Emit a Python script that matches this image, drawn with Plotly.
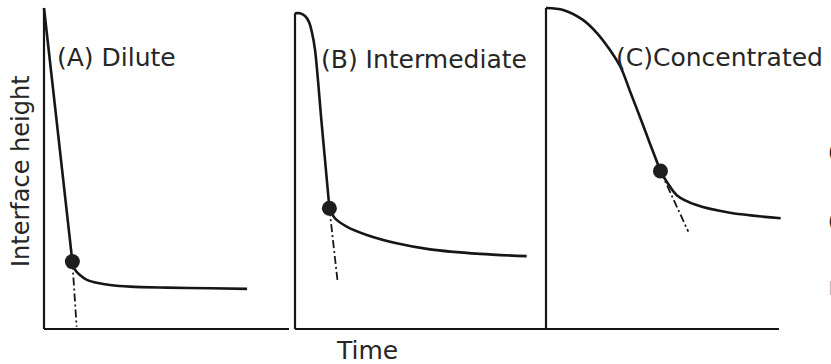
import plotly.graph_objects as go

# ---------------------------------------------------------------------------
# Batch-settling curves: interface height versus time for three suspensions.
# Time and height are in arbitrary units (height 100 = initial fill level).
# ---------------------------------------------------------------------------

panel_titles = ["(A) Dilute", "(B) Intermediate", "(C)Concentrated"]
x_label = "Time"
y_label = "Interface height"

# Time span of each panel's horizontal axis
panel_spans = [10.0, 10.0, 9.28]

# Initial interface height of each suspension
initial_heights = [100.0, 98.35, 100.0]

# (A) Dilute: fast constant-rate fall, then slow compression
a_fall_t = [0.0, 1.13]
a_fall_h = [100.0, 21.0]
a_tail_t = [1.13, 1.24, 1.43, 1.71, 2.15, 2.63, 3.43, 4.9, 6.61, 8.09]
a_tail_h = [21.0, 18.4, 16.8, 15.3, 14.3, 13.7, 13.2, 12.9, 12.7, 12.5]
a_crit_t, a_crit_h = 1.13, 21.0
a_extrap_t = [1.13, 1.30]
a_extrap_h = [21.0, 0.7]

# (B) Intermediate: short induction period, then constant-rate fall
b_fall_t = [0.0, 0.2, 0.4, 0.56, 0.68, 0.8, 1.06, 1.33, 1.37]
b_fall_h = [98.35, 98.35, 97.5, 95.6, 92.2, 86.9, 64.2, 41.2, 37.6]
b_tail_t = [1.37, 1.59, 2.06, 2.86, 4.05, 5.38, 7.37, 9.23]
b_tail_h = [37.6, 34.5, 31.9, 29.3, 26.7, 24.8, 23.4, 22.7]
b_crit_t, b_crit_h = 1.37, 37.6
b_extrap_t = [1.37, 1.69]
b_extrap_h = [37.6, 15.3]

# (C) Concentrated: gradual S-shaped fall
c_fall_t = [0.0, 0.68, 1.47, 2.03, 2.55, 2.99, 3.35, 3.75, 4.14, 4.56]
c_fall_h = [100.0, 99.4, 96.3, 92.2, 86.9, 81.3, 74.0, 65.9, 57.8, 49.2]
c_tail_t = [4.56, 4.81, 5.21, 6.0, 7.33, 9.35]
c_tail_h = [49.2, 45.9, 41.7, 38.6, 36.2, 34.5]
c_crit_t, c_crit_h = 4.56, 49.2
c_extrap_t = [4.56, 5.67]
c_extrap_h = [49.2, 30.3]

panels = [
    (a_fall_t, a_fall_h, a_tail_t, a_tail_h, a_crit_t, a_crit_h, a_extrap_t, a_extrap_h, "linear"),
    (b_fall_t, b_fall_h, b_tail_t, b_tail_h, b_crit_t, b_crit_h, b_extrap_t, b_extrap_h, "spline"),
    (c_fall_t, c_fall_h, c_tail_t, c_tail_h, c_crit_t, c_crit_h, c_extrap_t, c_extrap_h, "spline"),
]

# ---------------------------------------------------------------------------
# Page geometry (pixels)
# ---------------------------------------------------------------------------
W, H = 831, 364
ORIGINS_X = [44, 295, 546]      # left edge of each panel
BASE_Y, TOP_Y = 329, 8          # pixel rows of height 0 and height 100
PX_T = 25.1                      # pixels per time unit
PX_H = (BASE_Y - TOP_Y) / 100.0  # pixels per height unit
PAD = 6                          # padding so strokes at the edges are not clipped

INK = "#161616"
TEXT = "#262626"
FONT = "DejaVu Sans"


def fx(p):
    return p / W


def fy(p):
    return 1 - p / H


fig = go.Figure()

y_dom = [fy(BASE_Y + PAD), fy(TOP_Y - PAD)]
y_rng = [-PAD / PX_H, 100 + PAD / PX_H]

layout_axes = {}
for i, (x0, span) in enumerate(zip(ORIGINS_X, panel_spans)):
    n = "" if i == 0 else str(i + 1)
    x_dom = [max(0, fx(x0 - PAD)), min(1, fx(x0 + span * PX_T + PAD))]
    layout_axes["xaxis" + n] = dict(domain=x_dom, range=[-PAD / PX_T, span + PAD / PX_T],
                                    visible=False, anchor="y" + n, fixedrange=True)
    layout_axes["yaxis" + n] = dict(domain=y_dom, range=y_rng, visible=False,
                                    anchor="x" + n, fixedrange=True)

for i, (ft, fh, tt, th, ct, ch, et, eh, shape) in enumerate(panels):
    xa = "x" if i == 0 else "x" + str(i + 1)
    ya = "y" if i == 0 else "y" + str(i + 1)
    span = panel_spans[i]
    h0 = initial_heights[i]
    # time axis
    fig.add_trace(go.Scatter(x=[0, span], y=[0, 0], mode="lines", xaxis=xa, yaxis=ya,
                             line=dict(color=INK, width=2), hoverinfo="skip"))
    # initial fill level (vertical at t = 0)
    fig.add_trace(go.Scatter(x=[0, 0], y=[0, h0], mode="lines", xaxis=xa, yaxis=ya,
                             line=dict(color=INK, width=2.2), hoverinfo="skip"))
    # hindered-settling fall
    fig.add_trace(go.Scatter(x=ft, y=fh, mode="lines", xaxis=xa, yaxis=ya,
                             line=dict(color=INK, width=2.6, shape=shape, smoothing=0.8)))
    # compression zone
    fig.add_trace(go.Scatter(x=tt, y=th, mode="lines", xaxis=xa, yaxis=ya,
                             line=dict(color=INK, width=2.6, shape="spline", smoothing=0.9)))
    # extrapolation of the constant-rate line
    fig.add_trace(go.Scatter(x=et, y=eh, mode="lines", xaxis=xa, yaxis=ya,
                             line=dict(color=INK, width=1.8, dash="8px,3px,2px,3px")))
    # critical point
    fig.add_trace(go.Scatter(x=[ct], y=[ch], mode="markers", xaxis=xa, yaxis=ya,
                             marker=dict(color="#1e1e1e", size=15, line=dict(width=0))))

annotations = []
title_pos = [(55, 58), (319, 60), (614, 58)]
for text, (tx, ty) in zip(panel_titles, title_pos):
    annotations.append(dict(text=text, x=fx(tx), y=fy(ty), xref="paper", yref="paper",
                            xanchor="left", yanchor="middle", showarrow=False,
                            font=dict(family=FONT, size=25, color=TEXT)))

annotations.append(dict(text=x_label, x=fx(367), y=fy(350), xref="paper", yref="paper",
                        xanchor="center", yanchor="middle", showarrow=False,
                        font=dict(family=FONT, size=25, color=TEXT)))
annotations.append(dict(text=y_label, x=fx(21), y=fy(171), xref="paper", yref="paper",
                        xanchor="center", yanchor="middle", showarrow=False, textangle=-90,
                        font=dict(family=FONT, size=24, color=TEXT)))

# neighbouring column's text, cut off at the right edge of the page
for ty, ch, col in [(152, "(", TEXT), (221, "(", TEXT), (288, "I", "#b8b8b8")]:
    annotations.append(dict(text=ch, x=fx(826), y=fy(ty), xref="paper", yref="paper",
                            xanchor="left", yanchor="middle", showarrow=False,
                            font=dict(family=FONT, size=20, color=col)))

fig.update_layout(
    width=W, height=H,
    margin=dict(l=0, r=0, t=0, b=0),
    paper_bgcolor="white", plot_bgcolor="white",
    showlegend=False,
    annotations=annotations,
    **layout_axes,
)

fig.write_html("out.html", config={"displayModeBar": False})
